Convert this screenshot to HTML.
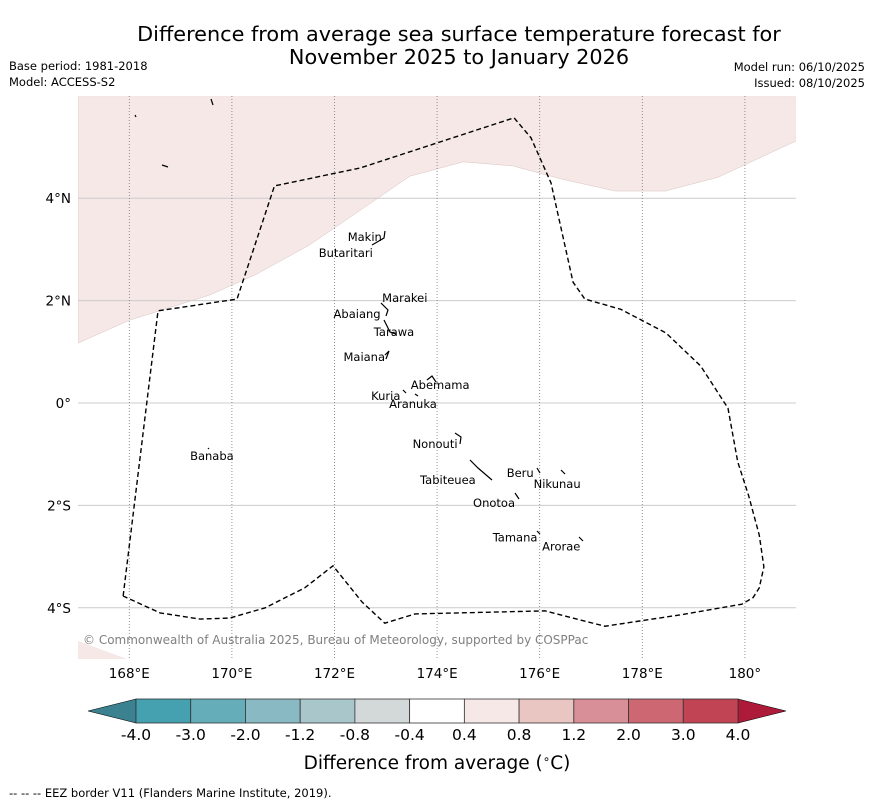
<!DOCTYPE html>
<html><head><meta charset="utf-8"><style>
body{margin:0;background:#fff;font-family:"DejaVu Sans","Liberation Sans",sans-serif;}
svg text{font-family:"DejaVu Sans","Liberation Sans",sans-serif;}
</style></head><body>
<svg width="873" height="804" viewBox="0 0 873 804" xmlns="http://www.w3.org/2000/svg">
<text x="459" y="41" font-size="20.8" text-anchor="middle">Difference from average sea surface temperature forecast for</text>
<text x="459" y="64" font-size="20.8" text-anchor="middle">November 2025 to January 2026</text>
<text x="9" y="70" font-size="11.5">Base period: 1981-2018</text>
<text x="9" y="86" font-size="11.5">Model: ACCESS-S2</text>
<text x="865" y="71" font-size="11.5" text-anchor="end">Model run: 06/10/2025</text>
<text x="865" y="87" font-size="11.5" text-anchor="end">Issued: 08/10/2025</text>
<g id="map"></g>
<g id="cbar"></g>
<text x="437" y="769" font-size="18.5" text-anchor="middle">Difference from average (<tspan font-size="12" dy="-6">∘</tspan><tspan dy="6">C)</tspan></text>
<text x="9" y="797" font-size="11.5">--  --  -- EEZ border V11 (Flanders Marine Institute, 2019).</text>
</svg>
<script>
const lonTicks=[168,170,172,174,176,178,180];
const lonTickLabels=["168°E","170°E","172°E","174°E","176°E","178°E","180°"];
const latTicks=[4,2,0,-2,-4];
const latTickLabels=["4°N","2°N","0°","2°S","4°S"];
const islandNames=["Makin","Butaritari","Marakei","Abaiang","Tarawa","Maiana","Abemama","Kuria","Aranuka","Nonouti","Banaba","Beru","Nikunau","Tabiteuea","Onotoa","Tamana","Arorae"];
const islandLon=[172.59,172.22,173.37,172.44,173.16,172.58,174.06,173.0,173.53,173.96,169.61,175.62,176.34,174.21,175.11,175.52,176.42];
const islandLat=[3.24,2.93,2.05,1.74,1.39,0.90,0.35,0.14,-0.02,-0.80,-1.04,-1.37,-1.58,-1.50,-1.95,-2.63,-2.80];
const eezLon=[167.88,168.56,170.1,170.83,172.5,175.5,175.83,176.22,176.65,176.88,177.58,178.46,179.14,179.67,179.86,180.07,180.28,180.37,180.28,180.16,179.94,178.73,177.27,176.10,173.57,172.98,172.54,171.97,171.42,170.65,169.96,169.38,168.6,167.88];
const eezLat=[-3.77,1.80,2.03,4.24,4.59,5.57,5.18,4.30,2.36,2.03,1.83,1.37,0.72,-0.10,-1.15,-1.80,-2.58,-3.20,-3.61,-3.80,-3.93,-4.14,-4.36,-4.06,-4.12,-4.30,-3.89,-3.18,-3.61,-4.0,-4.2,-4.22,-4.10,-3.77];
const landLon=[167,168.01,169.57,170.45,171.52,173.47,174.51,175.48,176.4,177.47,178.45,179.48,181,181,167];
const landLat=[1.17,1.62,2.11,2.50,3.09,4.43,4.71,4.63,4.38,4.14,4.14,4.41,5.12,6,6];
const cbLevels=["-4.0","-3.0","-2.0","-1.2","-0.8","-0.4","0.4","0.8","1.2","2.0","3.0","4.0"];
const cbColors=["#45a0b0","#66adba","#89b9c3","#a9c7cb","#d3d9d9","#ffffff","#f5e8e6","#e9c6c1","#d98f97","#cd6873","#c04454"];
const x=lon=>78+(lon-167)*51.3;
const y=lat=>403-lat*51.2;
const NS="http://www.w3.org/2000/svg";
function mk(tag,attrs,parent){const e=document.createElementNS(NS,tag);for(const k in attrs)e.setAttribute(k,attrs[k]);parent.appendChild(e);return e;}
const map=document.getElementById('map');
let defs=mk('defs',{},map);let cp=mk('clipPath',{id:'clip'},defs);mk('rect',{x:78,y:96,width:718,height:563},cp);
const inner=mk('g',{'clip-path':'url(#clip)'},map);
let land=mk('polygon',{points:landLon.map((l,i)=>x(l)+','+y(landLat[i])).join(' '),fill:'#f5e8e6',stroke:'#d8c4c2','stroke-width':0.5},inner);


let sw=mk('polygon',{points:'78,641 127,659 78,659',fill:'#f5e8e6'},inner);


latTicks.forEach((t,i)=>{
 let l=mk('line',{x1:78,x2:796,y1:y(t),y2:y(t),stroke:'#cccccc','stroke-width':1},inner);
 
 
 let tx=mk('text',{x:71,y:y(t)+5,'font-size':13.5,'text-anchor':'end'},map);tx.textContent=latTickLabels[i];
 
 
});
lonTicks.forEach((t,i)=>{
 let l=mk('line',{x1:x(t),x2:x(t),y1:96,y2:659,stroke:'#777','stroke-width':0.8,'stroke-dasharray':'1,2'},inner);
 
 
 let tx=mk('text',{x:x(t),y:678,'font-size':13.5,'text-anchor':'middle'},map);tx.textContent=lonTickLabels[i];
 
 
});
let eez=mk('polyline',{points:eezLon.map((l,i)=>x(l)+','+y(eezLat[i])).join(' '),fill:'none',stroke:'#000','stroke-width':1.4,'stroke-dasharray':'5,3'},inner);


islandNames.forEach((n,i)=>{
 const px=x(islandLon[i]),py=y(islandLat[i]);
 let tx=mk('text',{x:px,y:py+4,'font-size':11.5,'text-anchor':'middle'},inner);tx.textContent=n;
 
 
});
[[372,245,384,238,385,231],[381,303,388,310,386,316],[384,320,390,332,396,334],[385,355,389,351,386,359],[427,380,432,376,436,382],[455,433,461,437,460,444],[470,460,478,468,492,480],[537,468,540,473],[561,470,565,474],[515,493,519,499],[537,531,540,534],[579,537,583,541],[403,390,406,393],[415,394,418,396],[208,448,209,449],[211,99,213,105],[135,115,136,117],[162,165,168,167]].forEach(p=>{
 let pts=[];for(let k=0;k<p.length;k+=2)pts.push(p[k]+','+p[k+1]);
 let pl=mk('polyline',{points:pts.join(' '),fill:'none',stroke:'#000','stroke-width':1.2},inner);
 
 
});
let cr=mk('text',{x:83,y:644,'font-size':12,fill:'#808080'},map);cr.textContent='© Commonwealth of Australia 2025, Bureau of Meteorology, supported by COSPPac';


const cb=document.getElementById('cbar');
const cbX0=136,cbX1=738,cbY=699,cbH=24,n=cbColors.length,w=(cbX1-cbX0)/n;
let lt=mk('polygon',{points:`${cbX0},${cbY} 88,${cbY+cbH/2} ${cbX0},${cbY+cbH}`,fill:'#3b8190',stroke:'#000','stroke-width':0.6},cb);


let rt=mk('polygon',{points:`${cbX1},${cbY} 786,${cbY+cbH/2} ${cbX1},${cbY+cbH}`,fill:'#ad1a3a',stroke:'#000','stroke-width':0.6},cb);


cbColors.forEach((c,i)=>{
 let r=mk('rect',{x:cbX0+i*w,y:cbY,width:w,height:cbH,fill:c,stroke:'#333','stroke-width':0.8},cb);
 
 
});
cbLevels.forEach((v,i)=>{
 let tx=mk('text',{x:cbX0+i*w,y:740,'font-size':15.5,'text-anchor':'middle'},cb);tx.textContent=v;
 
 
});
</script>
</body></html>
